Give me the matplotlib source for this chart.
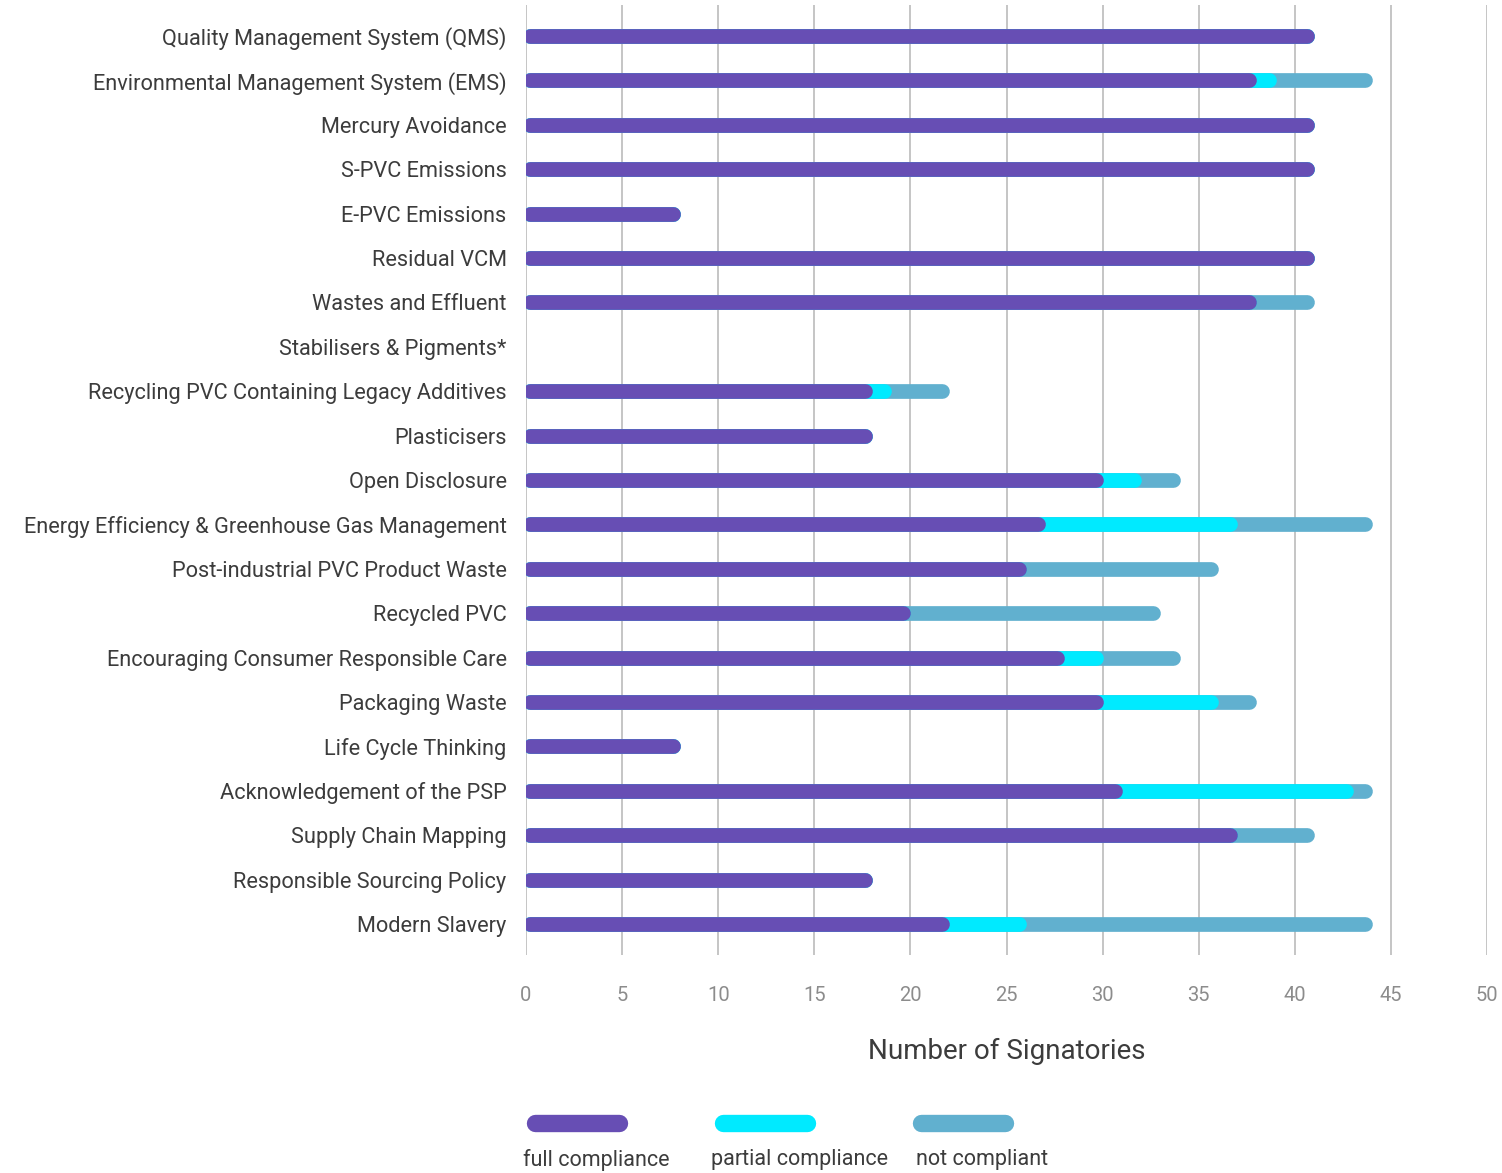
import matplotlib
matplotlib.use("Agg")
import matplotlib.pyplot as plt
from matplotlib.lines import Line2D

# compliance per commitment (number of signatories)
categories = [
    "Quality Management System (QMS)",
    "Environmental Management System (EMS)",
    "Mercury Avoidance",
    "S-PVC Emissions",
    "E-PVC Emissions",
    "Residual VCM",
    "Wastes and Effluent",
    "Stabilisers & Pigments*",
    "Recycling PVC Containing Legacy Additives",
    "Plasticisers",
    "Open Disclosure",
    "Energy Efficiency & Greenhouse Gas Management",
    "Post-industrial PVC Product Waste",
    "Recycled PVC",
    "Encouraging Consumer Responsible Care",
    "Packaging Waste",
    "Life Cycle Thinking",
    "Acknowledgement of the PSP",
    "Supply Chain Mapping",
    "Responsible Sourcing Policy",
    "Modern Slavery",
]
full = [41, 38, 41, 41, 8, 41, 38, 0, 18, 18, 30, 27, 26, 20, 28, 30, 8, 31, 37, 18, 22]
partial = [0, 1, 0, 0, 0, 0, 0, 0, 1, 0, 2, 10, 0, 0, 2, 6, 0, 12, 0, 0, 4]
not_compliant = [0, 5, 0, 0, 0, 0, 3, 0, 3, 0, 2, 7, 10, 13, 4, 2, 0, 1, 4, 0, 18]

series_names = ["full compliance", "partial compliance", "not compliant"]
colors = ["#674eb4", "#00eaff", "#61b0cf"]
x_ticks = [0, 5, 10, 15, 20, 25, 30, 35, 40, 45, 50]

plt.rcParams["font.family"] = ["Roboto", "DejaVu Sans"]

fig = plt.figure(figsize=(15.02, 11.73), dpi=100)
ax = fig.add_axes([526 / 1502, 1 - 955 / 1173, (1487 - 526) / 1502, 950 / 1173])

lw_pt = 10.6          # bar thickness in points
cap = 0.36            # half the round cap, in data units

# cumulative ends, drawn back to front so each colour shows only its own stretch
totals = [f + p + n for f, p, n in zip(full, partial, not_compliant)]
fp = [f + p for f, p in zip(full, partial)]
for ends, col in [(totals, colors[2]), (fp, colors[1]), (full, colors[0])]:
    for i, v in enumerate(ends):
        if v <= 0:
            continue
        ax.plot([cap - 0.15, v - cap], [i, i], color=col, lw=lw_pt,
                solid_capstyle="round", zorder=3)

ax.set_xlim(0, 50)
ax.set_ylim(len(categories) - 0.3, -0.7)
ax.set_xticks(x_ticks)
ax.set_yticks(range(len(categories)))
ax.set_yticklabels(categories)
ax.grid(axis="x", color="#b5b5b5", lw=1.1, zorder=0)
ax.set_axisbelow(True)
for s in ax.spines.values():
    s.set_visible(False)
ax.tick_params(axis="y", length=0, pad=14, labelsize=15.7, labelcolor="#3c3c3c")
ax.tick_params(axis="x", length=0, pad=22, labelsize=14.5, labelcolor="#8c8c8c")
ax.set_xlabel("Number of Signatories", fontsize=20, color="#3c3c3c",
              labelpad=24)

# legend: pill on top, label underneath
pill_x = [528, 716, 914]
text_x = [523, 711, 916]
for x0, tx, name, col in zip(pill_x, text_x, series_names, colors):
    fig.add_artist(Line2D([(x0 + 7) / 1502, (x0 + 91) / 1502],
                          [1 - 1123 / 1173] * 2, transform=fig.transFigure,
                          color=col, lw=12.5, solid_capstyle="round"))
    fig.text(tx / 1502, 1 - 1160 / 1173, name, fontsize=15.5,
             color="#3c3c3c", va="center", ha="left")

fig.savefig("out.png", dpi=100)
